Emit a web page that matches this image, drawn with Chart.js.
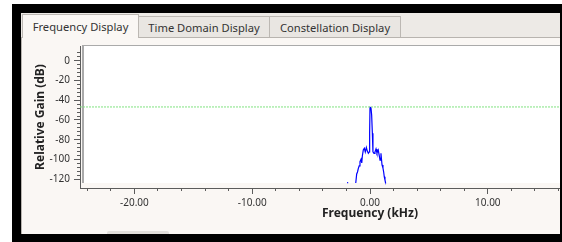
<!DOCTYPE html>
<html>
<head>
<meta charset="utf-8">
<script src="https://cdn.jsdelivr.net/npm/chart.js@4.4.0/dist/chart.umd.min.js"></script>
<style>
  html, body { margin: 0; padding: 0; width: 562px; height: 242px; overflow: hidden; background: #ffffff; font-family: "Noto Sans", sans-serif; }
  .abs { position: absolute; }
  #frame { left: 12px; top: 4px; width: 550px; height: 238px; background: #000; }
  #bar { left: 21px; top: 13px; width: 539px; height: 25px; background: #edeae6; }
  #pane { left: 21px; top: 37px; width: 538px; height: 196px; background: #faf7f4; border-top: 1px solid #b8b4af; border-left: 1px solid #b8b4af; }
  .tab { top: 16px; height: 21px; background: #e9e6e2; border: 1px solid #bcb8b3; border-bottom: none; font-size: 11.2px; color: #333; line-height: 21px; text-align: center; box-sizing: border-box; }
  .tab.active { top: 14px; height: 24px; background: #faf7f4; line-height: 24px; z-index: 2; }
  #plotbg { left: 82px; top: 45px; width: 490px; height: 137px; background: #fff; border-left: 2px solid #aaaaaa; border-top: 1px solid #aaaaaa; }
  #scrollbit { left: 107px; top: 231px; width: 62px; height: 3px; background: #e2dfdb; border-radius: 2px 2px 0 0; }
  #rightEdge { left: 560px; top: 4px; width: 2px; height: 238px; background: #000; z-index: 5; }
  #chartBox { left: 0; top: 0; z-index: 3; }
</style>
</head>
<body>
<div id="frame" class="abs"></div>
<div id="bar" class="abs"></div>
<div id="pane" class="abs"></div>
<div class="abs tab active" style="left:22px;width:117px;">Frequency Display</div>
<div class="abs tab" style="left:138px;width:132px;">Time Domain Display</div>
<div class="abs tab" style="left:269px;width:132px;">Constellation Display</div>
<div id="plotbg" class="abs"></div>
<div id="scrollbit" class="abs"></div>
<canvas id="chartBox" class="abs" width="700" height="242"></canvas>
<div id="rightEdge" class="abs"></div>

<script>
// spectrum trace (kHz, dB); null = gap
const freqKHz = [-1.95, -1.90, -1.85, -1.21, -1.13, -1.06, -0.99, -0.92, -0.85, -0.76,
                 -0.70, -0.65, -0.57, -0.48, -0.40, -0.31, -0.23, -0.14, -0.07, -0.03,
                 0.00, 0.08, 0.14, 0.20, 0.25, 0.34, 0.42, 0.51, 0.59, 0.70,
                 0.79, 0.85, 0.93, 1.02, 1.10, 1.16, 1.21, 1.27, 1.33];
const gainDb = [-123.4, -123.0, null, -123.8, -114.6, -112.6, -108.9, -106.5, -102.2, -99.8,
                -103.5, -96.4, -90.4, -88.6, -92.4, -87.8, -91.4, -93.7, -92.4, -73.2,
                -47.2, -47.4, -55.0, -73.5, -92.1, -93.7, -92.4, -89.3, -93.4, -90.4,
                -96.4, -100.5, -93.7, -105.5, -108.6, -112.6, -117.4, -120.7, -124.0];
const markerDb = -46.8;   // dotted threshold line

const xRange = [-24.62, 24.62];
const yRange = [-128.8, 14.87];
const xMajorTicks = [-20, -10, 0, 10, 20];
const xMinorTicks = [-24, -22, -20, -18, -16, -14, -12, -10, -8, -6, -4, -2, 0, 2, 4, 6, 8, 10, 12, 14, 16, 18, 20, 22, 24];
const yMajorTicks = [-120, -100, -80, -60, -40, -20, 0];
const yMinorTicks = [-120, -116, -112, -108, -104, -100, -96, -92, -88, -84, -80, -76, -72, -68, -64, -60, -56, -52, -48, -44, -40, -36, -32, -28, -24, -20, -16, -12, -8, -4, 0, 4, 8];

const FONT = '"Noto Sans", sans-serif';
const axisGray = '#5c5c5c';

const traceData = freqKHz.map((f, i) => ({ x: f, y: gainDb[i] }));

function setTicks(list) {
    return function (scale) { scale.ticks = list.map(v => ({ value: v })); };
}

const ctx = document.getElementById('chartBox').getContext('2d');
const spectrumChart = new Chart(ctx, {
    type: 'line',
    data: {
        datasets: [{
            data: [{ x: xRange[0], y: markerDb }, { x: xRange[1], y: markerDb }],
            borderColor: '#7fe27f',
            borderWidth: 1,
            borderDash: [2, 1],
            pointRadius: 0
        }, {
            data: traceData,
            borderColor: '#0000ff',
            borderWidth: 1.2,
            pointRadius: 0,
            spanGaps: false,
            tension: 0
        }]
    },
    options: {
        responsive: false,
        animation: false,
        layout: { padding: { top: 46, left: 0, right: 40, bottom: 0 } },
        plugins: { legend: { display: false }, tooltip: { enabled: false } },
        scales: {
            x: {
                type: 'linear',
                position: 'bottom',
                min: xRange[0],
                max: xRange[1],
                afterFit: s => { s.height = 54; },
                afterBuildTicks: setTicks(xMajorTicks),
                grid: { drawOnChartArea: false, tickLength: 6, tickColor: axisGray },
                border: { color: axisGray },
                ticks: {
                    autoSkip: false, maxRotation: 0, padding: 3, color: '#333',
                    font: { family: FONT, size: 10 },
                    callback: v => v.toFixed(2)
                },
                title: {
                    display: true, text: 'Frequency (kHz)', color: '#222',
                    font: { family: FONT, size: 12, weight: 'bold' },
                    padding: { top: 0, bottom: 21 }
                }
            },
            y: {
                type: 'linear',
                position: 'left',
                min: yRange[0],
                max: yRange[1],
                afterFit: s => { s.width = 80; },
                afterBuildTicks: setTicks(yMajorTicks),
                grid: { drawOnChartArea: false, tickLength: 6, tickColor: axisGray },
                border: { color: axisGray },
                ticks: {
                    autoSkip: false, padding: 4, color: '#333',
                    font: { family: FONT, size: 10 }
                },
                title: {
                    display: true, text: 'Relative Gain (dB)', color: '#222',
                    font: { family: FONT, size: 12, weight: 'bold' },
                    padding: { top: 33, bottom: 0 }
                }
            },
            xMinor: {
                type: 'linear',
                axis: 'x',
                position: { y: yRange[0] },
                min: xRange[0],
                max: xRange[1],
                afterBuildTicks: setTicks(xMinorTicks),
                grid: { drawOnChartArea: false, tickLength: 3, tickColor: axisGray },
                border: { display: false },
                ticks: { display: false }
            },
            yMinor: {
                type: 'linear',
                axis: 'y',
                position: { x: xRange[0] },
                min: yRange[0],
                max: yRange[1],
                afterBuildTicks: setTicks(yMinorTicks),
                grid: { drawOnChartArea: false, tickLength: 3, tickColor: axisGray },
                border: { display: false },
                ticks: { display: false }
            }
        }
    }
});
</script>
</body>
</html>
